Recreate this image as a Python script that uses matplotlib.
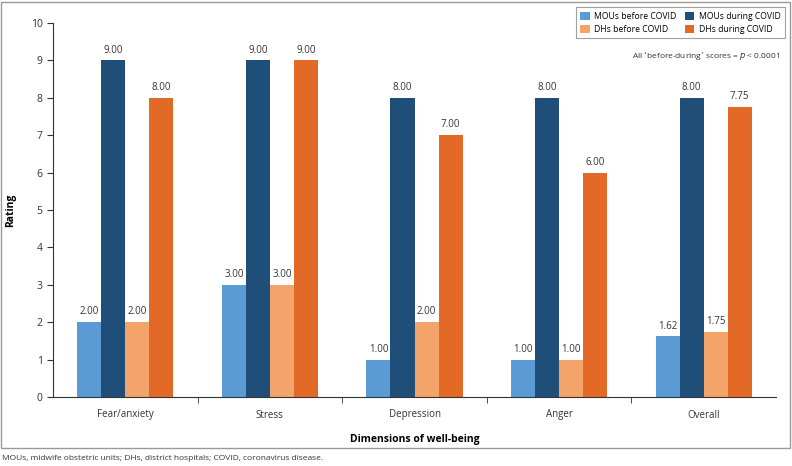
import matplotlib
matplotlib.use("Agg")
import matplotlib.pyplot as plt
import numpy as np
from matplotlib.patches import Rectangle

plt.rcParams['font.family'] = ['Open Sans', 'DejaVu Sans']

categories = ["Fear/anxiety", "Stress", "Depression", "Anger", "Overall"]
series_names = ["MOUs before COVID", "MOUs during COVID", "DHs before COVID", "DHs during COVID"]
mou_before = [2.00, 3.00, 1.00, 1.00, 1.62]
mou_during = [9.00, 9.00, 8.00, 8.00, 8.00]
dh_before = [2.00, 3.00, 2.00, 1.00, 1.75]
dh_during = [8.00, 9.00, 7.00, 6.00, 7.75]
colors = ["#5B9BD5", "#1F4E79", "#F4A46A", "#E36A26"]

fig = plt.figure(figsize=(7.92, 4.66), dpi=100)
ax = fig.add_axes([53/792, 1-397/466, (776-53)/792, (397-23)/466])

x = np.arange(len(categories))
w = 0.166
data = [mou_before, mou_during, dh_before, dh_during]
handles = []
for i, (vals, c, name) in enumerate(zip(data, colors, series_names)):
    pos = x + (i - 1.5) * w
    b = ax.bar(pos, vals, width=w, color=c, label=name)
    handles.append(b)
    for p, v in zip(pos, vals):
        ax.text(p, v + 0.13, f"{v:.2f}", ha='center', va='bottom', fontsize=7, color='#333333')

ax.set_xlim(-0.5, len(categories) - 0.5)
ax.set_ylim(0, 10)
ax.set_yticks(range(0, 11))
ax.tick_params(axis='y', labelsize=7.5, colors='#333333', length=4)
ax.set_xticks(x)
ax.set_xticklabels(categories, fontsize=7, color='#333333')
ax.tick_params(axis='x', which='major', length=0, pad=9)
ax.set_xticks(np.arange(0.5, len(categories) - 1, 1), minor=True)
ax.tick_params(axis='x', which='minor', length=4, direction='out', color='#333333')
for s in ['top', 'right']:
    ax.spines[s].set_visible(False)
for s in ['left', 'bottom']:
    ax.spines[s].set_color('#333333')
    ax.spines[s].set_linewidth(0.8)

ax.set_ylabel("Rating", fontsize=7.5, fontweight='bold')
ax.yaxis.set_label_coords((16-53)/723, 0.5)
ax.set_xlabel("Dimensions of well-being", fontsize=7.5, fontweight='bold')
ax.xaxis.set_label_coords(0.5, -(434-397)/374)

order = [0, 2, 1, 3]
leg = fig.legend(handles=[handles[k] for k in order], labels=[series_names[k] for k in order],
                 ncol=2, loc='upper right',
                 bbox_to_anchor=(789/792, 1-3/466), fontsize=6.2, frameon=True,
                 fancybox=False, edgecolor='#888888', handlelength=1.1, handleheight=1.1,
                 columnspacing=1.0, handletextpad=0.5, borderpad=0.5, labelspacing=0.5)
leg.get_frame().set_linewidth(0.8)

fig.text(780/792, 1-56/466, "All \u2018before-during\u2019 scores = $\\mathit{p}$ < 0.0001",
         ha='right', va='center', fontsize=6, color='#333333')

fig.patches.append(Rectangle((1/792, 1-448/466), 789/792, 446/466, transform=fig.transFigure,
                             fill=False, edgecolor='#999999', linewidth=1.0))

fig.text(2/792, 1-459/466, "MOUs, midwife obstetric units; DHs, district hospitals; COVID, coronavirus disease.",
         ha='left', va='center', fontsize=6, color='#333333')

fig.savefig("out.png", dpi=100)
